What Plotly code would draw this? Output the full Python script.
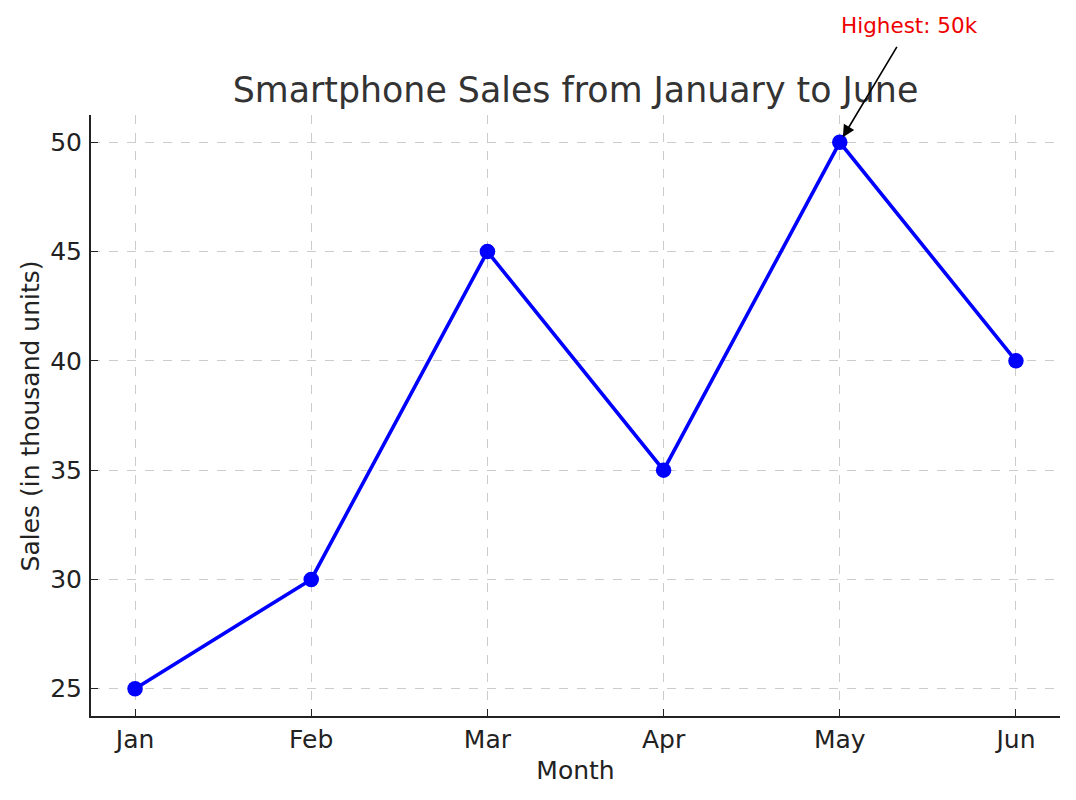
import plotly.graph_objects as go

# data
months = ["Jan", "Feb", "Mar", "Apr", "May", "Jun"]
sales = [25, 30, 45, 35, 50, 40]
y_ticks = [25, 30, 35, 40, 45, 50]
peak_label = "Highest: 50k"

FONT = "DejaVu Sans"

fig = go.Figure()

fig.add_trace(go.Scatter(
    x=list(range(len(months))), y=sales,
    mode="lines+markers",
    line=dict(color="#0000ff", width=3.6),
    marker=dict(color="#0000ff", size=15.5),
    showlegend=False,
))

peak = sales.index(max(sales))

# arrow pointing at the peak
fig.add_annotation(
    x=peak, y=sales[peak], xref="x", yref="y",
    text="", showarrow=True,
    ax=58, ay=-97,
    arrowhead=2, arrowsize=1.5, arrowwidth=1.6, arrowcolor="black",
    standoff=6,
)
# label above the arrow
fig.add_annotation(
    x=peak, y=sales[peak], xref="x", yref="y",
    text=peak_label, showarrow=False,
    xshift=70, yshift=117,
    font=dict(family=FONT, size=21.5, color="#ee0000"),
)

# y axis title as a rotated annotation (axis title standoff is ignored without automargin)
fig.add_annotation(
    x=-0.062, y=0.5, xref="paper", yref="paper",
    text="Sales (in thousand units)", showarrow=False, textangle=-90,
    xanchor="center", yanchor="middle",
    font=dict(family=FONT, size=25, color="#222222"),
)

# page body adds an 8px margin, so the figure is 8px smaller
fig.update_layout(
    width=1068, height=792,
    paper_bgcolor="white", plot_bgcolor="white",
    margin=dict(l=83, r=16, t=107, b=84),
    font=dict(family=FONT, color="#222222"),
    title=dict(text="Smartphone Sales from January to June",
               x=567.5 / 1068, xanchor="center", y=1 - 82 / 792, yanchor="middle",
               font=dict(family=FONT, size=34.8, color="#333333")),
)

fig.update_xaxes(
    range=[-0.25, 5.25],
    tickmode="array", tickvals=list(range(len(months))), ticktext=months,
    ticks="inside", ticklen=7, tickwidth=1.2, tickcolor="#222222",
    tickfont=dict(size=25, color="#222222"),
    showline=True, linecolor="#222222", linewidth=2,
    showgrid=True, gridcolor="#cccccc", gridwidth=1, griddash="dash",
    zeroline=False, automargin=False,
    title=dict(text="Month", font=dict(size=25, color="#222222"), standoff=8),
)
fig.update_yaxes(
    range=[23.75, 51.25],
    tickmode="array", tickvals=y_ticks,
    ticks="inside", ticklen=7, tickwidth=1.2, tickcolor="#222222",
    tickfont=dict(size=25, color="#222222"),
    showline=True, linecolor="#222222", linewidth=2,
    showgrid=True, gridcolor="#cccccc", gridwidth=1, griddash="dash",
    zeroline=False, automargin=False,
    ticklabelstandoff=2,
)

fig.write_html("out.html")
